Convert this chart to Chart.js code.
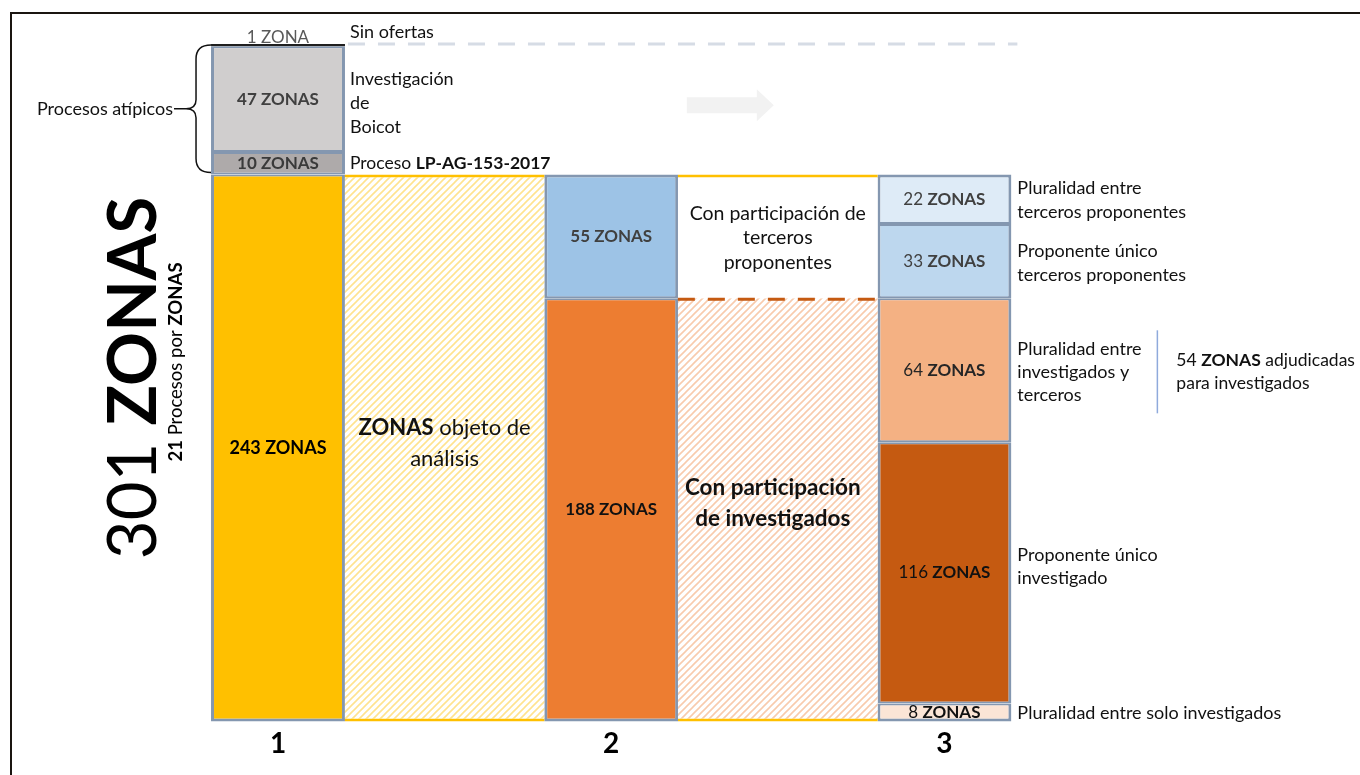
<!DOCTYPE html>
<html>
<head>
<meta charset="utf-8">
<script src="https://cdn.jsdelivr.net/npm/chart.js@4.4.0/dist/chart.umd.min.js"></script>
<style>
  body { margin: 0; background: #fff; }
  canvas { display: block; }
</style>
</head>
<body>
<canvas id="zonasChart" width="1360" height="775"></canvas>
<script>
// Columnas (las vacías son los espacios rayados entre barras)
const columns = ['1', '', '2', '', '3'];

// Barra 1 (de abajo hacia arriba)
const bar1Values = [243, 10, 47, 1];
const bar1Labels = ['243 ZONAS', '10 ZONAS', '47 ZONAS', '1 ZONA'];
// Barra 2
const bar2Values = [188, 55];
const bar2Labels = ['188 ZONAS', '55 ZONAS'];
// Barra 3
const bar3Values = [8, 116, 64, 33, 22];
const bar3Labels = ['8 ZONAS', '116 ZONAS', '64 ZONAS', '33 ZONAS', '22 ZONAS'];
// Espacios entre barras
const gap1Values = [243];
const gap2Values = [188, 55];

const totalZonas = 301;
const FONT = 'Lato, "Open Sans", sans-serif';
const BORDER = '#8497B0';
const GOLD = '#FFC000';

const canvas = document.getElementById('zonasChart');
const ctx = canvas.getContext('2d');

function hatch(color) {
  const c = document.createElement('canvas');
  c.width = 7; c.height = 7;
  const g = c.getContext('2d');
  g.fillStyle = '#fff';
  g.fillRect(0, 0, 7, 7);
  g.strokeStyle = color;
  g.lineWidth = 1.6;
  g.beginPath();
  g.moveTo(-1, 8); g.lineTo(8, -1);
  g.moveTo(-1, 1); g.lineTo(1, -1);
  g.moveTo(6, 8); g.lineTo(8, 6);
  g.stroke();
  return ctx.createPattern(c, 'repeat');
}

function at(col, v) {
  return columns.map((_, i) => (i === col ? v : null));
}

function segBorder(i, n) {
  return { left: 3, right: 3, top: i === n - 1 ? 3 : 2, bottom: i === 0 ? 3 : 2 };
}

const bar1Colors = ['#FFC000', '#AEAAAA', '#D0CECE', '#1F1F1F'];
const bar2Colors = ['#ED7D31', '#9DC3E6'];
const bar3Colors = ['#FBE5D6', '#C55A11', '#F4B183', '#BDD7EE', '#DEEBF7'];

const datasets = [];
const labelInfo = []; // texto dentro de cada segmento

function addGap(col, value, fill, border) {
  datasets.push({
    data: at(col, value), backgroundColor: fill, borderColor: GOLD,
    borderWidth: border, borderSkipped: false, barPercentage: 1.2, categoryPercentage: 1, clip: false
  });
  labelInfo.push(null);
}
addGap(1, gap1Values[0], hatch('#FFE38F'), { top: 3, bottom: 3, left: 0, right: 0 });
addGap(3, gap2Values[0], hatch('#F8CBAD'), { top: 0, bottom: 3, left: 0, right: 0 });
addGap(3, gap2Values[1], '#ffffff', { top: 3, bottom: 0, left: 0, right: 0 });

function addBar(col, values, labels, colors, textColors, boldNum) {
  values.forEach((v, i) => {
    const thin = v <= 1;
    datasets.push({
      data: at(col, v), backgroundColor: colors[i], borderColor: BORDER,
      borderWidth: thin ? 0 : segBorder(i, values.length), borderSkipped: false,
      barPercentage: 0.804, categoryPercentage: 1, clip: false
    });
    labelInfo.push({ text: labels[i], color: textColors[i], boldNum: boldNum, col: col, thin: thin });
  });
}
addBar(0, bar1Values, bar1Labels, bar1Colors, ['#000', '#3A3A3A', '#404040', '#595959'], true);
addBar(2, bar2Values, bar2Labels, bar2Colors, ['#111', '#404040'], true);
addBar(4, bar3Values, bar3Labels, bar3Colors, ['#111', '#111', '#262626', '#404040', '#404040'], false);

function rich(c, parts, x, y, size, align, color) {
  c.save();
  c.textBaseline = 'middle';
  c.textAlign = 'left';
  c.fillStyle = color;
  const widths = parts.map(([t, b]) => {
    c.font = (b ? 'bold ' : '') + size + 'px ' + FONT;
    return c.measureText(t).width;
  });
  const total = widths.reduce((a, b) => a + b, 0);
  let cx = align === 'center' ? x - total / 2 : (align === 'right' ? x - total : x);
  parts.forEach(([t, b], i) => {
    c.font = (b ? 'bold ' : '') + size + 'px ' + FONT;
    c.fillText(t, cx, y);
    cx += widths[i];
  });
  c.restore();
}

function plain(c, lines, x, y0, step, size, align, color) {
  lines.forEach((l, i) => rich(c, typeof l === 'string' ? [[l, false]] : l, x, y0 + i * step, size, align, color));
}

const annotations = {
  id: 'annotations',
  afterDatasetsDraw(chart) {
    const c = chart.ctx;
    const el = (ds, col) => chart.getDatasetMeta(ds).data[col];
    const mid = (e) => (e.y + e.base) / 2;

    // etiquetas dentro de los segmentos
    labelInfo.forEach((info, ds) => {
      if (!info) return;
      const e = el(ds, info.col);
      const [num, word] = info.text.split(' ');
      if (info.thin) {
        rich(c, [[num + ' ', false], [word, false]], e.x, e.y - 6, 17, 'center', info.color);
        return;
      }
      const size = info.text === '243 ZONAS' ? 18 : 17;
      rich(c, [[num + ' ', info.boldNum], [word, true]], e.x, mid(e), size, 'center', info.color);
    });

    const b1 = bar1Values.map((_, i) => el(3 + i, 0));
    const b3 = bar3Values.map((_, i) => el(3 + bar1Values.length + bar2Values.length + i, 4));
    const g1 = el(0, 1), g2lo = el(1, 3), g2up = el(2, 3);
    const r1 = b1[0].x + b1[0].width / 2;
    const r3 = b3[0].x + b3[0].width / 2;

    // línea discontinua "Sin ofertas"
    c.save();
    c.setLineDash([17, 13]);
    c.lineWidth = 3;
    c.strokeStyle = '#D6DCE5';
    c.beginPath();
    c.moveTo(r1 + 3, b1[3].y);
    c.lineTo(r3 + 6, b1[3].y);
    c.stroke();
    // línea discontinua naranja entre participación
    c.strokeStyle = '#C55A11';
    c.beginPath();
    c.moveTo(g2lo.x - g2lo.width / 2, g2lo.y + 1);
    c.lineTo(g2lo.x + g2lo.width / 2, g2lo.y + 1);
    c.stroke();
    c.restore();

    // flecha gris
    const ax = g2up.x - 91, ay = mid(b1[2]) + 6;
    c.save();
    c.fillStyle = '#F2F2F2';
    c.beginPath();
    c.moveTo(ax, ay - 8); c.lineTo(ax + 70, ay - 8); c.lineTo(ax + 70, ay - 16);
    c.lineTo(ax + 87, ay); c.lineTo(ax + 70, ay + 16); c.lineTo(ax + 70, ay + 8);
    c.lineTo(ax, ay + 8); c.closePath(); c.fill();
    c.restore();

    // textos junto a la barra 1
    const tx1 = r1 + 5;
    plain(c, ['Sin ofertas'], tx1, b1[3].y - 12, 0, 18, 'left', '#111');
    plain(c, ['Investigación', 'de', 'Boicot'], tx1, mid(b1[2]) - 20, 24, 18, 'left', '#111');
    rich(c, [['Proceso ', false], ['LP-AG-153-2017', true]], tx1, mid(b1[1]), 17.5, 'left', '#111');

    // llave "Procesos atípicos"
    const l1 = b1[0].x - b1[0].width / 2;
    const yT = b1[3].y + 1, yB = b1[1].base - 2, yM = (yT + yB) / 2;
    const xv = l1 - 15;
    c.save();
    c.strokeStyle = '#111';
    c.lineWidth = 1.5;
    c.beginPath();
    c.moveTo(l1, yT);
    c.quadraticCurveTo(xv, yT, xv, yT + 14);
    c.lineTo(xv, yM - 9);
    c.quadraticCurveTo(xv, yM, xv - 10, yM);
    c.lineTo(xv - 22, yM);
    c.moveTo(xv - 10, yM);
    c.quadraticCurveTo(xv, yM, xv, yM + 9);
    c.lineTo(xv, yB - 14);
    c.quadraticCurveTo(xv, yB, l1, yB);
    c.stroke();
    c.restore();
    rich(c, [['Procesos atípicos', false]], xv - 23, yM, 18, 'right', '#111');

    // textos en los espacios
    rich(c, [['ZONAS', true], [' objeto de', false]], g1.x, mid(g1) - 20, 22, 'center', '#111');
    rich(c, [['análisis', false]], g1.x, mid(g1) + 11, 22, 'center', '#111');
    plain(c, ['Con participación de', 'terceros', 'proponentes'], g2up.x, mid(g2up) - 23, 24.5, 19.5, 'center', '#111');
    plain(c, [[['Con participación', true]], [['de investigados', true]]], g2lo.x - 5, mid(g2lo) - 22, 31, 22.5, 'center', '#111');

    // textos junto a la barra 3
    const tx3 = r3 + 6;
    plain(c, ['Pluralidad entre', 'terceros proponentes'], tx3, mid(b3[4]) - 11, 24, 18, 'left', '#111');
    plain(c, ['Proponente único', 'terceros proponentes'], tx3, mid(b3[3]) - 10, 24, 18, 'left', '#111');
    plain(c, ['Pluralidad entre', 'investigados y', 'terceros'], tx3, mid(b3[2]) - 21, 23, 18, 'left', '#111');
    plain(c, ['Proponente único', 'investigado'], tx3, mid(b3[1]) - 18, 23, 18, 'left', '#111');
    plain(c, ['Pluralidad entre solo investigados'], tx3, mid(b3[0]) + 1, 0, 18, 'left', '#111');

    // línea y nota de adjudicadas
    const lx = r3 + 146;
    c.save();
    c.strokeStyle = '#8FAADC';
    c.lineWidth = 1.5;
    c.beginPath();
    c.moveTo(lx, mid(b3[2]) - 40);
    c.lineTo(lx, mid(b3[2]) + 43);
    c.stroke();
    c.restore();
    rich(c, [['54 ', false], ['ZONAS', true], [' adjudicadas', false]], lx + 19, mid(b3[2]) - 10, 17.5, 'left', '#111');
    rich(c, [['para investigados', false]], lx + 19, mid(b3[2]) + 13, 17.5, 'left', '#111');

    // títulos verticales
    c.save();
    c.translate(158, 378);
    c.rotate(-Math.PI / 2);
    rich(c, [['301 ', false], ['ZONAS', true]], 0, -24, 67, 'center', '#000');
    c.restore();
    c.save();
    c.translate(182, 362);
    c.rotate(-Math.PI / 2);
    rich(c, [['21', true], [' Procesos por ', false], ['ZONAS', true]], 0, -6, 18.5, 'center', '#000');
    c.restore();

    // marco
    c.save();
    c.strokeStyle = '#1A1510';
    c.lineWidth = 2;
    c.strokeRect(11, 13, 1400, 800);
    c.restore();
  }
};

new Chart(ctx, {
  type: 'bar',
  data: { labels: columns, datasets: datasets },
  options: {
    responsive: false,
    animation: false,
    devicePixelRatio: 1,
    layout: { padding: { left: 194.7, right: 332.3, top: 44, bottom: 8 } },
    plugins: { legend: { display: false }, tooltip: { enabled: false } },
    scales: {
      x: {
        stacked: true,
        grid: { display: false, drawTicks: false },
        border: { display: false },
        ticks: {
          autoSkip: false, maxRotation: 0, padding: 6, color: '#000',
          font: { family: FONT, size: 28, weight: 'bold' }
        }
      },
      y: {
        stacked: true, display: false, min: 0, max: totalZonas
      }
    }
  },
  plugins: [annotations]
});
</script>
</body>
</html>
